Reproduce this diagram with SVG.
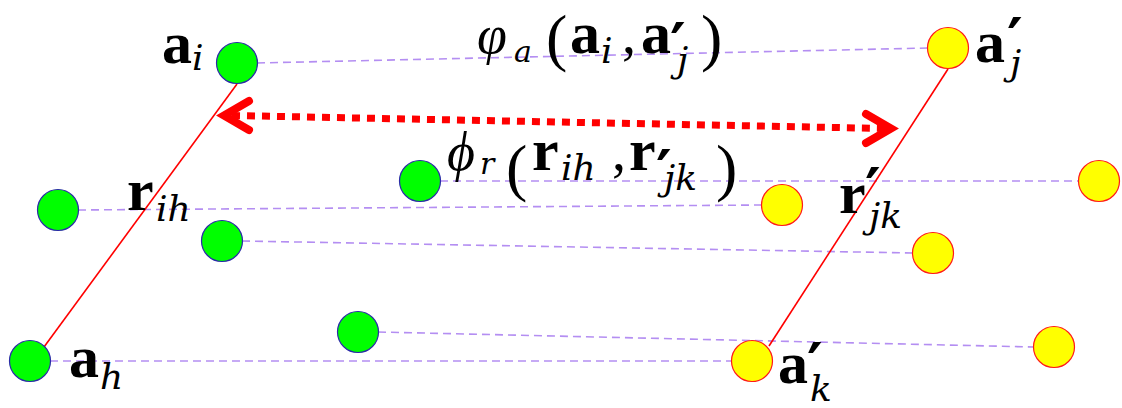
<svg xmlns="http://www.w3.org/2000/svg" width="1122" height="408" viewBox="0 0 1122 408">
<style>
.g{fill:#00ff00;stroke:#2a2aa8;stroke-width:1.2}
.y{fill:#ffff00;stroke:#ff1a1a;stroke-width:1.2}
.d{stroke:#b48ef2;stroke-width:1.6;stroke-dasharray:8 5;fill:none}
.rl{stroke:#ff0000;stroke-width:1.6;fill:none}
text{fill:#000}
.b{font-family:"Liberation Serif",serif;font-weight:bold;font-size:60px}
.s{font-family:"DejaVu Serif",serif;font-style:italic;font-size:36px}
.ss{font-family:"DejaVu Serif",serif;font-style:italic;font-size:30px}
.m{font-family:"Liberation Serif",serif;font-style:italic;font-size:54px}
.p{font-family:"Liberation Serif",serif;font-size:64px}
.c{font-family:"Liberation Serif",serif;font-size:56px}
.pr{font-family:"DejaVu Serif",serif;font-weight:bold;font-size:60px}
</style>
<rect width="1122" height="408" fill="#fff"/>
<g id="connectors">
<line class="d" x1="257" y1="63" x2="928" y2="48"/>
<line class="d" x1="440" y1="181" x2="1079" y2="181"/>
<line class="d" x1="78" y1="210" x2="762" y2="205"/>
<line class="d" x1="242" y1="241" x2="913" y2="253"/>
<line class="d" x1="378" y1="332" x2="1034" y2="347"/>
<line class="d" x1="50" y1="361" x2="732" y2="361"/>
<line class="rl" x1="237" y1="84" x2="44" y2="347"/>
<line class="rl" x1="948" y1="69" x2="769" y2="346"/>
<g id="correspondence-arrow" stroke="#ff0000" fill="none">
<line x1="232" y1="115.5" x2="884" y2="128.5" stroke-width="7" stroke-dasharray="8 7"/>
<polyline points="249,101 224,115.5 249,130" stroke-width="8" stroke-linecap="round"/>
<polyline points="866,114 891,128.5 866,143" stroke-width="8" stroke-linecap="round"/>
</g>
<g id="relation-labels">
<text><tspan class="b" x="127" y="210">r</tspan><tspan class="s" x="156" y="221">ih</tspan></text>
<text><tspan class="b" x="839" y="213">r</tspan><tspan class="pr" x="865" y="211">′</tspan><tspan class="s" x="869" y="228">jk</tspan></text>
</g>
<g id="similarity-labels">
<text><tspan class="m" x="477" y="53">φ</tspan><tspan class="ss" x="514" y="62">a</tspan><tspan class="p" x="546" y="59">(</tspan><tspan class="b" x="570" y="53">a</tspan><tspan class="s" x="601" y="63">i</tspan><tspan class="c" x="622" y="53">,</tspan><tspan class="b" x="641" y="53">a</tspan><tspan class="pr" x="670" y="66">′</tspan><tspan class="s" x="677" y="72">j</tspan><tspan class="p" x="701" y="59">)</tspan></text>
<text><tspan class="m" x="447" y="170">ϕ</tspan><tspan class="ss" x="480" y="174">r</tspan><tspan class="p" x="506" y="189">(</tspan><tspan class="b" x="532" y="170">r</tspan><tspan class="s" x="561" y="180">ih</tspan><tspan class="c" x="612" y="170">,</tspan><tspan class="b" x="629" y="170">r</tspan><tspan class="pr" x="656" y="193">′</tspan><tspan class="s" x="664" y="190">jk</tspan><tspan class="p" x="716" y="189">)</tspan></text>
</g>
</g>
<g id="node-ai"><circle class="g" cx="237" cy="63" r="20.5"/><text><tspan class="b" x="162" y="63">a</tspan><tspan class="s" x="192" y="70">i</tspan></text></g>
<g id="node-g2"><circle class="g" cx="420" cy="181" r="20.5"/></g>
<g id="node-g3"><circle class="g" cx="58" cy="210" r="20.5"/></g>
<g id="node-g4"><circle class="g" cx="222" cy="241" r="20.5"/></g>
<g id="node-g5"><circle class="g" cx="358" cy="332" r="20.5"/></g>
<g id="node-ah"><circle class="g" cx="30" cy="361" r="20.5"/><text><tspan class="b" x="69" y="377">a</tspan><tspan class="s" x="100" y="389">h</tspan></text></g>
<g id="node-aj"><circle class="y" cx="948" cy="48" r="20.5"/><text><tspan class="b" x="975" y="62">a</tspan><tspan class="pr" x="1007" y="61">′</tspan><tspan class="s" x="1010" y="75">j</tspan></text></g>
<g id="node-y2"><circle class="y" cx="1099" cy="181" r="20.5"/></g>
<g id="node-y3"><circle class="y" cx="782" cy="205" r="20.5"/></g>
<g id="node-y4"><circle class="y" cx="933" cy="253" r="20.5"/></g>
<g id="node-y5"><circle class="y" cx="1054" cy="347" r="20.5"/></g>
<g id="node-ak"><circle class="y" cx="752" cy="361" r="20.5"/><text><tspan class="b" x="778" y="383">a</tspan><tspan class="pr" x="807" y="386">′</tspan><tspan class="s" x="810" y="401">k</tspan></text></g>
</svg>
